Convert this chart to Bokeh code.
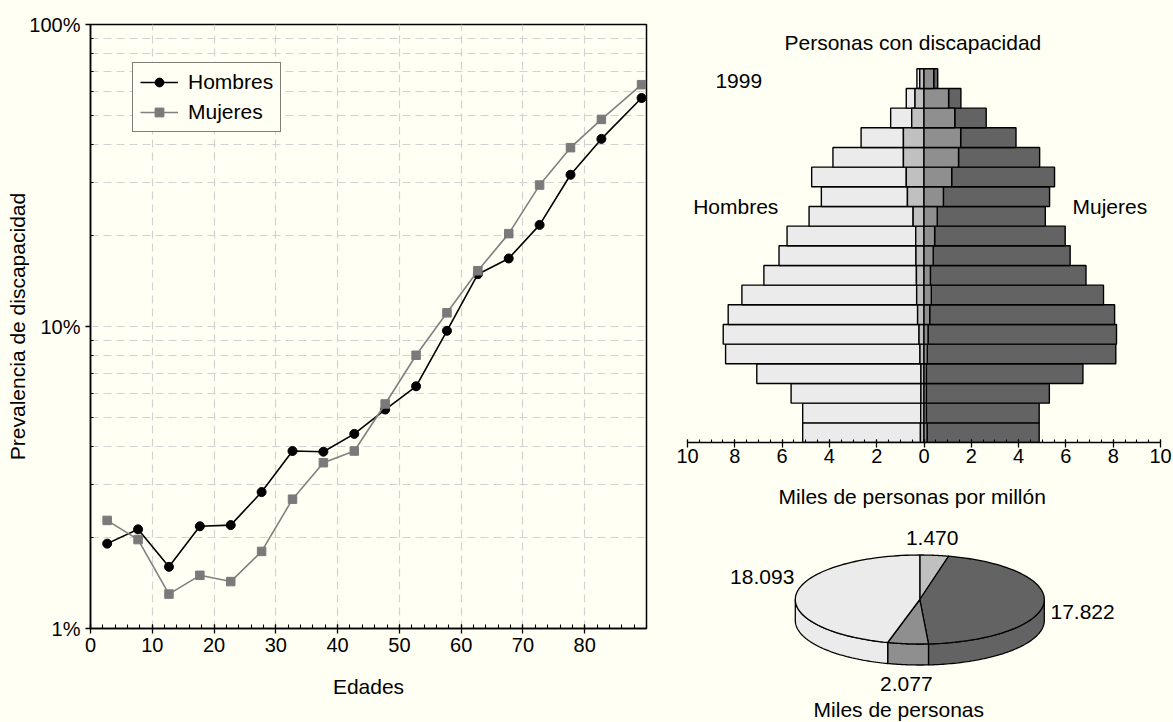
import numpy as np
from bokeh.plotting import figure
from bokeh.models import (Range1d, FixedTicker, CustomJSTickFormatter, Label,
                          ColumnDataSource)
from bokeh.layouts import row, column
from bokeh.embed import file_html
from bokeh.resources import INLINE

BG = "#FFFFF3"
FONT = "Liberation Sans"
GRID = "#D2D2D2"
C_LIGHT = "#EBEBEB"
C_MLIGHT = "#C0C0C0"
C_MDARK = "#8F8F8F"
C_DARK = "#636363"

# ---------------- data: prevalence by age ----------------
edades = [2.7, 7.7, 12.7, 17.7, 22.7, 27.7, 32.7, 37.7, 42.7, 47.7,
          52.7, 57.7, 62.7, 67.7, 72.7, 77.7, 82.7, 89.2]
hombres = [1.91, 2.13, 1.60, 2.18, 2.20, 2.83, 3.87, 3.85, 4.41, 5.31,
           6.34, 9.68, 14.9, 16.8, 21.7, 31.8, 41.8, 57.1]
mujeres = [2.28, 1.97, 1.30, 1.50, 1.43, 1.80, 2.68, 3.54, 3.87, 5.54,
           8.03, 11.1, 15.3, 20.3, 29.4, 39.1, 48.5, 63.2]
x_ticks = [0, 10, 20, 30, 40, 50, 60, 70, 80]
y_ticks = [1, 10, 100]

# ---------------- data: pyramid (0-4 first) ----------------
grupos = ["0-4", "5-9", "10-14", "15-19", "20-24", "25-29", "30-34", "35-39",
          "40-44", "45-49", "50-54", "55-59", "60-64", "65-69", "70-74",
          "75-79", "80-84", "85-89", "90+"]
hombres_total = [5.13, 5.13, 5.62, 7.07, 8.39, 8.49, 8.28, 7.70, 6.77, 6.13,
                 5.79, 4.86, 4.34, 4.75, 3.85, 2.66, 1.41, 0.75, 0.30]
hombres_disc = [0.15, 0.14, 0.13, 0.13, 0.17, 0.21, 0.27, 0.31, 0.32, 0.34,
                0.35, 0.46, 0.70, 0.75, 0.87, 0.87, 0.52, 0.38, 0.18]
mujeres_total = [4.87, 4.87, 5.30, 6.72, 8.11, 8.14, 8.06, 7.59, 6.85, 6.18,
                 5.97, 5.13, 5.31, 5.52, 4.89, 3.89, 2.63, 1.56, 0.58]
mujeres_disc = [0.13, 0.10, 0.10, 0.10, 0.14, 0.17, 0.24, 0.31, 0.27, 0.39,
                0.45, 0.56, 0.82, 1.17, 1.46, 1.55, 1.30, 1.04, 0.41]
pyr_ticks = [-10, -8, -6, -4, -2, 0, 2, 4, 6, 8, 10]

# ---------------- data: pie (miles de personas) ----------------
pie_nombres = ["Hombres con discapacidad", "Mujeres sin discapacidad",
               "Mujeres con discapacidad", "Hombres sin discapacidad"]
pie_valores = [1470, 17822, 2077, 18093]
pie_colores = [C_MLIGHT, C_DARK, C_MDARK, C_LIGHT]


def style_text_axis(ax, tick_size="20px", label_size="21px"):
    ax.major_label_text_font = FONT
    ax.major_label_text_font_size = tick_size
    ax.major_label_text_color = "black"
    ax.axis_label_text_font = FONT
    ax.axis_label_text_font_size = label_size
    ax.axis_label_text_font_style = "normal"
    ax.axis_label_text_color = "black"
    ax.axis_line_color = "black"
    ax.axis_line_width = 1.5
    ax.major_tick_line_color = "black"
    ax.minor_tick_line_color = "black"
    ax.major_tick_line_width = 1.3
    ax.minor_tick_line_width = 1.1


# ================= left chart =================
left = figure(width=648, height=722, x_range=Range1d(0, 90), y_range=Range1d(1, 100),
              y_axis_type="log", output_backend="svg", toolbar_location=None,
              title=None, min_border_left=90, min_border_right=2,
              min_border_top=24, min_border_bottom=94,
              background_fill_color=BG, border_fill_color=BG)
left.outline_line_color = "black"
left.outline_line_width = 1.5

xt = FixedTicker(ticks=x_ticks, minor_ticks=list(range(0, 91, 2)))
yt = FixedTicker(ticks=y_ticks,
                 minor_ticks=[m * d for d in (1, 10) for m in range(2, 10)])
xa = left.xaxis[0]
ya = left.yaxis[0]
xa.ticker = xt
ya.ticker = yt
left.xgrid[0].ticker = xt
left.ygrid[0].ticker = yt
ya.formatter = CustomJSTickFormatter(code="return tick + '%';")
style_text_axis(xa)
style_text_axis(ya)
xa.axis_label = "Edades"
ya.axis_label = "Prevalencia de discapacidad"
xa.major_tick_in = 4
xa.major_tick_out = 5
xa.minor_tick_in = 4
xa.minor_tick_out = 0
xa.major_label_standoff = 4
xa.axis_label_standoff = 20
ya.major_tick_in = 0
ya.major_tick_out = 5
ya.minor_tick_in = 3
ya.minor_tick_out = 0
ya.major_label_standoff = 5
ya.axis_label_standoff = -3

for g in (left.xgrid[0], left.ygrid[0]):
    g.grid_line_color = GRID
    g.grid_line_dash = "8 5"
    g.grid_line_width = 1.2
left.ygrid[0].minor_grid_line_color = GRID
left.ygrid[0].minor_grid_line_dash = "8 5"
left.ygrid[0].minor_grid_line_width = 1.2

left.line(edades, hombres, line_color="black", line_width=1.6, legend_label="Hombres")
left.scatter(edades, hombres, marker="circle", size=9, fill_color="black",
             line_color="black", legend_label="Hombres")
left.line(edades, mujeres, line_color="#808080", line_width=1.6, legend_label="Mujeres")
left.scatter(edades, mujeres, marker="square", size=8.5, fill_color="#7A7A7A",
             line_color="#7A7A7A", legend_label="Mujeres")

leg = left.legend[0]
leg.location = (42, 496)
leg.margin = 0
leg.padding = 7
leg.spacing = 6
leg.glyph_width = 38
leg.glyph_height = 22
leg.label_height = 22
leg.label_standoff = 10
leg.label_text_font = FONT
leg.label_text_font_size = "21px"
leg.label_text_color = "black"
leg.border_line_color = "black"
leg.border_line_width = 1.5
leg.background_fill_color = BG
leg.background_fill_alpha = 1.0

# ================= pyramid =================
PYR_TOP = 22.472
pyr = figure(width=525, height=478, x_range=Range1d(-10, 10), y_range=Range1d(0, PYR_TOP),
             y_axis_location=None, output_backend="svg", toolbar_location=None,
             title=None, min_border_left=39, min_border_right=13,
             min_border_top=0, min_border_bottom=36,
             background_fill_color=BG, border_fill_color=BG)
pyr.outline_line_color = None
pyr.grid.visible = False
pa = pyr.xaxis[0]
pa.ticker = FixedTicker(ticks=pyr_ticks, minor_ticks=list(np.arange(-10, 10.01, 0.5)))
pa.formatter = CustomJSTickFormatter(code="return Math.abs(tick).toString();")
style_text_axis(pa)
pa.major_tick_in = 3
pa.major_tick_out = 5
pa.minor_tick_in = 3
pa.minor_tick_out = 0
pa.major_label_standoff = 1

src = ColumnDataSource(dict(
    y=[i + 0.5 for i in range(len(grupos))],
    grupo=grupos,
    h_tot=[-v for v in hombres_total],
    h_dis=[-v for v in hombres_disc],
    m_tot=mujeres_total,
    m_dis=mujeres_disc,
    cero=[0.0] * len(grupos),
))
bar_kw = dict(height=1, line_color="black", line_width=1.4, source=src)
pyr.hbar(y="y", left="h_tot", right="h_dis", fill_color=C_LIGHT, **bar_kw)
pyr.hbar(y="y", left="h_dis", right="cero", fill_color=C_MLIGHT, **bar_kw)
pyr.hbar(y="y", left="m_dis", right="m_tot", fill_color=C_DARK, **bar_kw)
pyr.hbar(y="y", left="cero", right="m_dis", fill_color=C_MDARK, **bar_kw)


def add_label(fig, x, y, text, align="left"):
    fig.add_layout(Label(x=x, y=y, text=text, text_font=FONT, text_font_size="21px",
                         text_color="black", text_align=align,
                         text_baseline="alphabetic"))


add_label(pyr, -0.47, 20.34, "Personas con discapacidad", "center")
add_label(pyr, -8.82, 18.36, "1999")
add_label(pyr, -9.76, 11.99, "Hombres")
add_label(pyr, 6.28, 11.99, "Mujeres")

# ================= pie =================
# same side borders as the pyramid (frames in a column are aligned);
# data units equal pixels of this figure
pie = figure(width=525, height=244, x_range=Range1d(39, 512), y_range=Range1d(244, 0),
             x_axis_location=None, y_axis_location=None, output_backend="svg",
             toolbar_location=None, title=None, min_border_left=39,
             min_border_right=13, min_border_top=0, min_border_bottom=0,
             background_fill_color=BG, border_fill_color=BG)
pie.outline_line_color = None
pie.grid.visible = False

CX, CY, RX, RY, DEPTH = 271.3, 121.0, 124.5, 44.5, 21.0
total = float(sum(pie_valores))
bounds = np.concatenate([[0.0], np.cumsum(pie_valores) / total * 2 * np.pi])

side_x, side_y, side_c = [], [], []
top_x, top_y, top_c = [], [], []
for i in range(len(pie_valores)):
    a0, a1 = bounds[i], bounds[i + 1]
    t = np.linspace(a0, a1, 80)
    top_x.append(list(np.concatenate([[CX], CX + RX * np.sin(t)])))
    top_y.append(list(np.concatenate([[CY], CY - RY * np.cos(t)])))
    top_c.append(pie_colores[i])
    lo, hi = max(a0, np.pi / 2), min(a1, 3 * np.pi / 2)
    if lo < hi:
        s = np.linspace(lo, hi, 80)
        xs = CX + RX * np.sin(s)
        ys = CY - RY * np.cos(s)
        side_x.append(list(np.concatenate([xs, xs[::-1]])))
        side_y.append(list(np.concatenate([ys, ys[::-1] + DEPTH])))
        side_c.append(pie_colores[i])

pie.patches(xs=side_x, ys=side_y, fill_color=side_c, line_color="black", line_width=1.3)
pie.patches(xs=top_x, ys=top_y, fill_color=top_c, line_color="black", line_width=1.3)


def fmt_miles(v):
    return f"{v:,}".replace(",", ".")


add_label(pie, 263.7, 18.0, "Miles de personas por millón", "center")
pie_label_pos = [(283.7, 59.0, "center"), (402.0, 133.3, "left"),
                 (257.8, 205.7, "center"), (113.7, 98.0, "center")]
for v, (lx, ly, al) in zip(pie_valores, pie_label_pos):
    add_label(pie, lx, ly, fmt_miles(v), al)
add_label(pie, 250.3, 231.0, "Miles de personas", "center")

layout = row(left, column(pyr, pie, spacing=0), spacing=0)

html = file_html(layout, INLINE, title="Personas con discapacidad 1999")
html = html.replace("</head>",
                    f"<style>html,body{{background:{BG};}}</style></head>", 1)
open("out.html", "w").write(html)
